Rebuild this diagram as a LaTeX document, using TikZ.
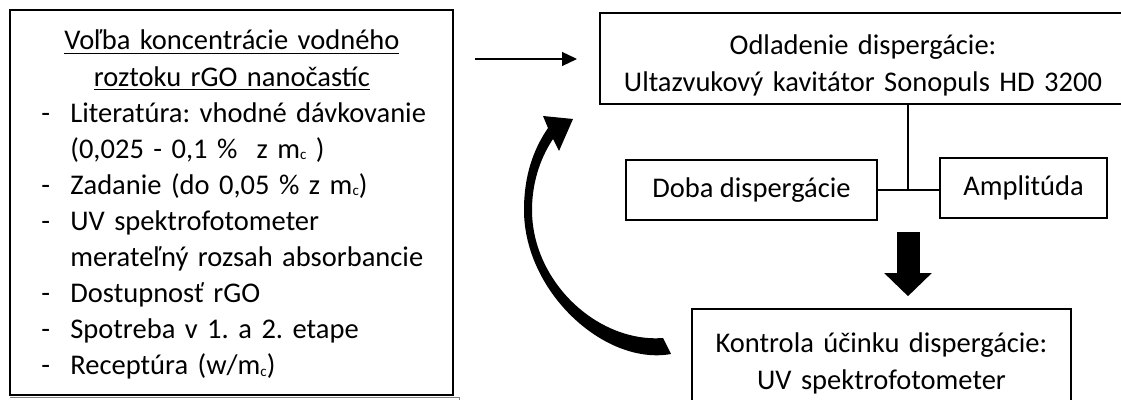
\documentclass[tikz,border=0pt]{standalone}
\usepackage{fontspec}
\setmainfont{Carlito}
\usetikzlibrary{arrows.meta,positioning}

\newcommand{\fs}{\fontsize{14.25}{18.05}\selectfont\frenchspacing}
\newcommand{\dash}{\makebox[14.5pt][l]{-}}
\newcommand{\ind}{\hspace*{14.5pt}}
\newcommand{\mc}{m\raisebox{-0.6pt}{\fontsize{7.5}{8}\selectfont c}}

\tikzstyle{box} = [rectangle, draw=black, line width=0.8pt, inner sep=0pt, font=\fs]
\tikzstyle{txt} = [inner sep=0pt, align=center, font=\fs]
\tikzstyle{link} = [line width=0.8pt]
\tikzstyle{arrow} = [line width=0.6pt, -{Triangle[length=7.5pt,width=7pt]}]
\tikzstyle{bigarrow} = [line width=11.5pt, -{Triangle[length=11.5pt,width=23pt]}]

\begin{document}
\begin{tikzpicture}[x=0.5pt,y=-0.5pt]
		\clip (0,0) rectangle (1121,400);
		\fill [white] (0,0) rectangle (1121,400);

		% left box
		\node (volba) [box, minimum width=221.5pt, minimum height=192.5pt] at (231.5,202.5) {};
		\node (volbatext) [txt, align=left, text width=215pt, anchor=base west] at (41,50) {%
			\makebox[190.5pt]{\underline{Voľba koncentrácie vodného}}\\
			\makebox[190.5pt]{\underline{roztoku rGO nanočastíc}}\\
			\dash Literatúra: vhodné dávkovanie\\
			\ind (0,025 - 0,1 \%~~z \mc~)\\
			\dash Zadanie (do 0,05 \% z \mc)\\
			\dash UV spektrofotometer\\
			\ind merateľný rozsah absorbancie\\
			\dash Dostupnosť rGO\\
			\dash Spotreba v 1. a 2. etape\\
			\dash Receptúra (w/\mc)};
		\draw [gray, line width=0.4pt] (10,397.5) -| (459,400);

		% right side
		\node (odl) [box, minimum width=263pt, minimum height=45.5pt] at (863,58.5) {};
		\node (odltext) [txt, text width=260pt, anchor=base] at (863,55) {Odladenie dispergácie:\\Ultazvukový kavitátor Sonopuls HD 3200};
		\node (doba) [box, minimum width=125.5pt, minimum height=30pt] at (751.5,190) {Doba dispergácie};
		\node (ampl) [box, minimum width=83.5pt, minimum height=30pt] at (1023.5,188) {Amplitúda};
		\node (kon) [box, minimum width=189.5pt, minimum height=55.5pt] at (881.5,364.5) {};
		\node (kontext) [txt, text width=185pt, anchor=base] at (881.5,353) {Kontrola účinku dispergácie:\\UV spektrofotometer};

		\coordinate (junc) at (908,190);
		\coordinate (a1) at (475,59);
		\coordinate (a2) at (577,59);
		\coordinate (dtop) at (908,232);

		\draw [arrow] (a1) -- (a2);
		\draw [link] (odl.south -| junc) -- (junc);
		\draw [link] (doba.east) -- (ampl.west |- doba.east);
		\draw [bigarrow, shorten >=6pt] (dtop) -- (dtop |- kon.north);

		% curved arrow back to the top
		\fill (671,354) .. controls (605,366) and (524,292) .. (524,210)
			.. controls (524,176) and (533,150) .. (548,128)
			-- (543,116) -- (573,119) -- (559,151) -- (553,139)
			.. controls (539,160) and (532,185) .. (532,210)
			.. controls (532,282) and (598,343) .. (663,338) -- cycle;
	\end{tikzpicture}
\end{document}
